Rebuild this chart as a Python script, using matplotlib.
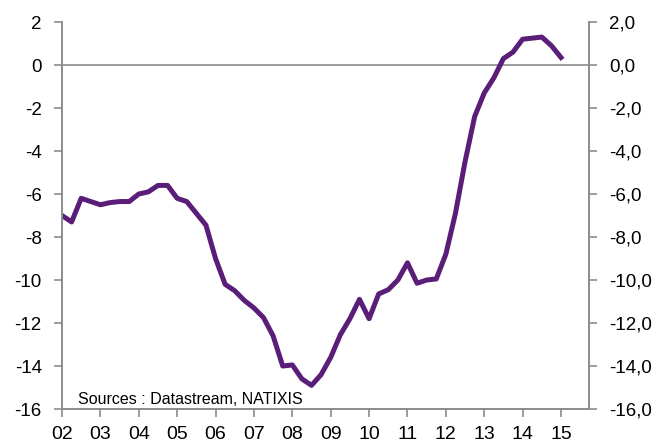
import numpy as np
import matplotlib.pyplot as plt
from matplotlib.ticker import FuncFormatter

plt.rcParams['font.family'] = ['Liberation Sans', 'DejaVu Sans']
plt.rcParams['axes.unicode_minus'] = False

# donnees trimestrielles 2002T1 - 2015T1
debut = 2002
valeurs = [-7.0, -7.3, -6.2, -6.35, -6.5, -6.4, -6.35, -6.35,
           -6.0, -5.9, -5.6, -5.6, -6.2, -6.35, -6.9, -7.45,
           -9.0, -10.2, -10.5, -10.95, -11.3, -11.75, -12.6, -14.0,
           -13.95, -14.6, -14.9, -14.4, -13.6, -12.55, -11.8, -10.9,
           -11.8, -10.65, -10.45, -10.0, -9.2, -10.15, -10.0, -9.95,
           -8.8, -6.9, -4.5, -2.4, -1.3, -0.6, 0.3, 0.6,
           1.2, 1.25, 1.3, 0.9, 0.35]
annees = ["02", "03", "04", "05", "06", "07", "08", "09", "10", "11", "12", "13", "14", "15"]
source = "Sources : Datastream, NATIXIS"

x = debut + np.arange(len(valeurs)) / 4.0

fig = plt.figure(figsize=(6.59, 4.43), dpi=100)
ax = fig.add_axes([0.0941, 0.0767, 0.7997, 0.8736])

ax.plot(x, valeurs, color="#5a1e78", linewidth=3.6, solid_joinstyle="round")
ax.axhline(0, color="#8c8c8c", linewidth=1.2, zorder=0)

ax.set_xlim(2002, 2015.73)
ax.set_ylim(-16, 2)
ax.set_xticks(debut + np.arange(len(annees)))
ax.set_xticklabels(annees)
ax.set_yticks(np.arange(-16, 3, 2))

ax2 = ax.twinx()
ax2.set_ylim(-16, 2)
ax2.set_yticks(np.arange(-16, 3, 2))
ax2.yaxis.set_major_formatter(FuncFormatter(lambda v, p: f"{v:.1f}".replace(".", ",")))

for a in (ax, ax2):
    a.spines["top"].set_visible(False)
    for s in ("left", "right", "bottom"):
        a.spines[s].set_color("#8c8c8c")
        a.spines[s].set_linewidth(1.2)
    a.tick_params(direction="out", length=5.5, width=1.2, color="#8c8c8c",
                  labelcolor="black")
    a.tick_params(axis="y", labelsize=13.5, pad=9)
ax.tick_params(axis="x", labelsize=14, pad=7)

ax.text(2002.42, -15.55, source, fontsize=11.5, ha="left", va="center")

plt.savefig("out.png", dpi=100)
